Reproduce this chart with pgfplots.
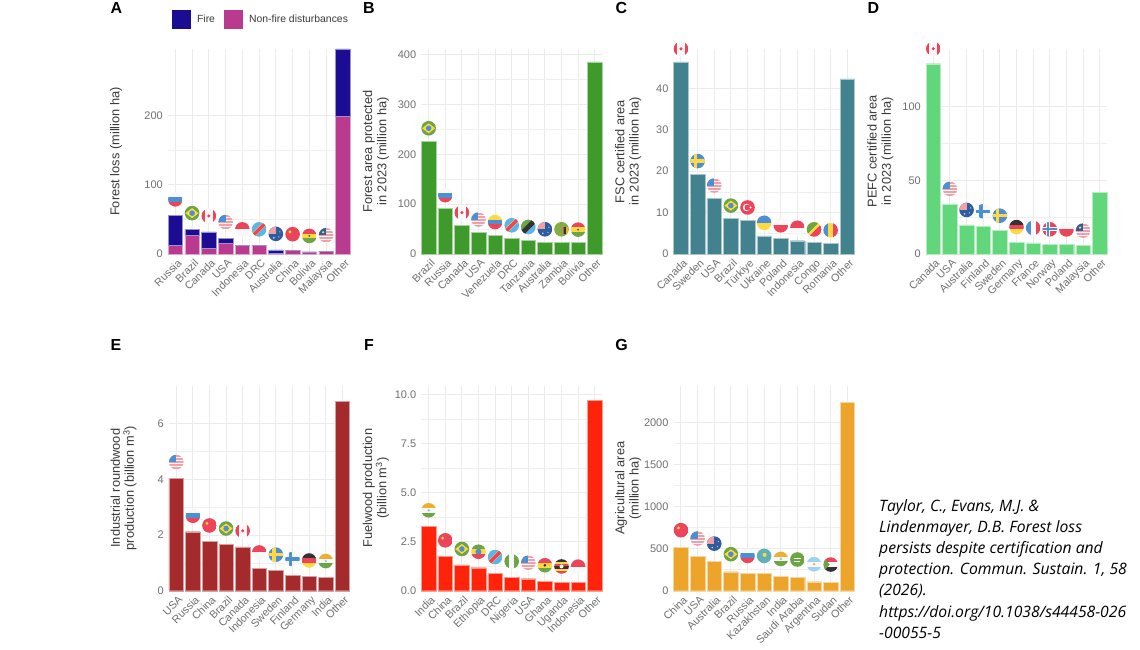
\documentclass[border=0pt]{standalone}
\usepackage{fontspec}
\usepackage{pgfplots}
\pgfplotsset{compat=1.18}
\setmainfont{Liberation Sans}
\newfontfamily\citefont{Open Sans}

\definecolor{gridc}{HTML}{EBEBEB}
\definecolor{tickc}{HTML}{707070}
\definecolor{labelc}{HTML}{3A3A3A}
\definecolor{firec}{HTML}{1C0C94}
\definecolor{nonfirec}{HTML}{B93A8F}
\definecolor{cB}{HTML}{3F9A2C}
\definecolor{cC}{HTML}{42818E}
\definecolor{cD}{HTML}{62D67B}
\definecolor{cE}{HTML}{A42A2C}
\definecolor{cF}{HTML}{FF2409}
\definecolor{cG}{HTML}{EDA42B}
% flag colours, washed out like the reference
\definecolor{fr}{HTML}{EC4459}
\definecolor{fb}{HTML}{4D8FD0}
\definecolor{fg}{HTML}{6DA544}
\definecolor{fy}{HTML}{FFD944}
\definecolor{fk}{HTML}{333333}
\definecolor{fw}{HTML}{F8F8F8}
\definecolor{fs}{HTML}{F2A0A8}
\definecolor{fn}{HTML}{2F5C9E}
\definecolor{fc}{HTML}{5BB5E8}
\definecolor{fo}{HTML}{EFAE2E}

\newcommand\hb[3]{\fill[#1] (-8pt,#2pt) rectangle (8pt,#3pt);}
\newcommand\vb[3]{\fill[#1] (#2pt,-8pt) rectangle (#3pt,8pt);}
\newcommand\flagdef[2]{\pgfdeclareplotmark{#1}{\pgfsetstrokeopacity{0}\begin{scope}\clip (0pt,0pt) circle (7.3pt); #2 \end{scope}}}
\newcommand\stripes{\hb{fw}{-8}{8}\hb{fs}{5}{7}\hb{fs}{2}{4}\hb{fs}{-1}{1}\hb{fs}{-4}{-2}\hb{fs}{-7}{-5}}

\flagdef{russia}{\hb{fw}{2.4}{8}\hb{fb}{-2.4}{2.4}\hb{fr}{-8}{-2.4}}
\flagdef{brazil}{\hb{fg}{-8}{8}\fill[fy] (-6.5pt,0pt)--(0pt,5pt)--(6.5pt,0pt)--(0pt,-5pt)--cycle;\fill[fb] (0pt,0pt) circle (2.8pt);}
\flagdef{canada}{\hb{fw}{-8}{8}\vb{fr}{-8}{-4}\vb{fr}{4}{8}\fill[fr] (0pt,0pt) circle (1.7pt);}
\flagdef{usa}{\stripes\fill[fb] (-8pt,0pt) rectangle (0pt,8pt);}
\flagdef{indonesia}{\hb{fw}{-8}{0}\hb{fr}{0}{8}}
\flagdef{drc}{\hb{fc}{-8}{8}\fill[fy] (-9pt,-6pt)--(5pt,8pt)--(9pt,6pt)--(-5pt,-8pt)--cycle;\fill[fr] (-8pt,-5.6pt)--(5.6pt,8pt)--(8pt,5.6pt)--(-5.6pt,-8pt)--cycle;}
\flagdef{australia}{\hb{fn}{-8}{8}\fill[fs] (-8pt,0pt) rectangle (0pt,8pt);\fill[fw] (4pt,2pt) circle (.6pt);\fill[fw] (-2pt,-4pt) circle (.8pt);\fill[fw] (3pt,-3pt) circle (.6pt);}
\flagdef{china}{\hb{fr}{-8}{8}\fill[fy] (-2.6pt,2.2pt) circle (1.6pt);}
\flagdef{bolivia}{\hb{fr}{2.4}{8}\hb{fy}{-2.4}{2.4}\hb{fg}{-8}{-2.4}\fill[fg!50!fk] (0pt,0pt) circle (1.1pt);}
\flagdef{malaysia}{\stripes\fill[fn] (-8pt,0pt) rectangle (0pt,8pt);\fill[fy] (-3pt,3pt) circle (1.3pt);}
\flagdef{venezuela}{\hb{fy}{2.4}{8}\hb{fb}{-2.4}{2.4}\hb{fr}{-8}{-2.4}}
\flagdef{tanzania}{\hb{fc}{-8}{8}\fill[fg] (-8pt,-8pt)--(-8pt,8pt)--(8pt,8pt)--cycle;\fill[fy] (-8pt,-6pt)--(6pt,8pt)--(8pt,6pt)--(-6pt,-8pt)--cycle;\fill[fk] (-8pt,-4.6pt)--(4.6pt,8pt)--(8pt,4.6pt)--(-4.6pt,-8pt)--cycle;}
\flagdef{zambia}{\hb{fg!85!fy}{-8}{8}\fill[fr] (1pt,-5pt) rectangle (2.7pt,2pt);\fill[fk] (2.7pt,-5pt) rectangle (4.3pt,2pt);\fill[fo] (4.3pt,-5pt) rectangle (6pt,2pt);}
\flagdef{sweden}{\hb{fb}{-8}{8}\hb{fy}{-1.6}{1.6}\vb{fy}{-3.6}{-.4}}
\flagdef{turkey}{\hb{fr}{-8}{8}\fill[fw] (-1pt,0pt) circle (3.7pt);\fill[fr] (-.1pt,0pt) circle (2.9pt);\fill[fw] (3pt,0pt) circle (1.1pt);}
\flagdef{ukraine}{\hb{fb}{0}{8}\hb{fy}{-8}{0}}
\flagdef{poland}{\hb{fw}{0}{8}\hb{fr}{-8}{0}}
\flagdef{congo}{\hb{fy}{-8}{8}\fill[fg] (-8pt,-6pt)--(-8pt,8pt)--(6pt,8pt)--cycle;\fill[fr] (8pt,6pt)--(8pt,-8pt)--(-6pt,-8pt)--cycle;}
\flagdef{romania}{\vb{fb}{-8}{-2.4}\vb{fy}{-2.4}{2.4}\vb{fr}{2.4}{8}}
\flagdef{finland}{\hb{fw}{-8}{8}\hb{fb}{-1.7}{1.7}\vb{fb}{-3.8}{-.4}}
\flagdef{germany}{\hb{fk}{2.4}{8}\hb{fr}{-2.4}{2.4}\hb{fy}{-8}{-2.4}}
\flagdef{france}{\vb{fb}{-8}{-2.4}\vb{fw}{-2.4}{2.4}\vb{fr}{2.4}{8}}
\flagdef{norway}{\hb{fr}{-8}{8}\hb{fw}{-2.2}{2.2}\vb{fw}{-4}{0}\hb{fb}{-1.1}{1.1}\vb{fb}{-3}{-1}}
\flagdef{india}{\hb{fo}{2.4}{8}\hb{fw}{-2.4}{2.4}\hb{fg}{-8}{-2.4}\fill[fb!60!white] (0pt,0pt) circle (1.3pt);}
\flagdef{nigeria}{\vb{fg}{-8}{-2.4}\vb{fw}{-2.4}{2.4}\vb{fg}{2.4}{8}}
\flagdef{ethiopia}{\hb{fg}{2.4}{8}\hb{fy}{-2.4}{2.4}\hb{fr}{-8}{-2.4}\fill[fb] (0pt,0pt) circle (3pt);}
\flagdef{ghana}{\hb{fr}{2.4}{8}\hb{fy}{-2.4}{2.4}\hb{fg}{-8}{-2.4}\fill[fk] (0pt,0pt) circle (1.5pt);}
\flagdef{uganda}{\hb{fk}{4.8}{8}\hb{fy}{2.4}{4.8}\hb{fr}{0}{2.4}\hb{fk}{-2.4}{0}\hb{fy}{-4.8}{-2.4}\hb{fr}{-8}{-4.8}\fill[fw] (0pt,0pt) circle (2pt);}
\flagdef{kazakhstan}{\hb{fc!70!fg}{-8}{8}\fill[fy] (.5pt,1pt) circle (2pt);}
\flagdef{saudi}{\hb{fg}{-8}{8}\fill[fw] (-3.5pt,.2pt) rectangle (3.5pt,1.8pt);\fill[fw] (-3pt,-2pt) rectangle (3pt,-1.4pt);}
\flagdef{argentina}{\hb{fc!60!white}{2.4}{8}\hb{fw}{-2.4}{2.4}\hb{fc!60!white}{-8}{-2.4}\fill[fo] (0pt,0pt) circle (1.3pt);}
\flagdef{sudan}{\hb{fr}{2.4}{8}\hb{fw}{-2.4}{2.4}\hb{fk}{-8}{-2.4}\fill[fg] (-8pt,8pt)--(-1pt,0pt)--(-8pt,-8pt)--cycle;}

% one flag above a bar: name, category position, bar height
\newcommand\flag[3]{\addplot[forget plot, sharp plot, only marks, mark=#1, mark options={draw=none,yshift=\flagup}] coordinates {(#2,#3)};}

\pgfplotsset{
  panel/.style={
    scale only axis, clip=false,
    xmin=-0.45, xmax=10.45, ymin=0,
    axis line style={draw=none},
    tick style={draw=none},
    xtick={0,...,10},
    xmajorgrids, ymajorgrids, yminorgrids, minor y tick num=1,
    major grid style={draw=gridc, line width=1pt},
    minor grid style={draw=gridc!80!white, line width=0.6pt},
    tick label style={font=\fontsize{11}{12}\selectfont, text=tickc},
    /pgf/number format/assume math mode=true,
    /pgf/number format/.cd, 1000 sep={},
    /pgfplots/.cd,
    xticklabel style={rotate=45, anchor=north east, inner sep=1pt, font=\fontsize{10.8}{12}\selectfont, xshift=-1pt, yshift=-3pt},
    yticklabel style={xshift=-1.5pt},
    xtick pos=bottom,
    every axis y label/.style={at={(axis description cs:-0.25,0.5)}, rotate=90, anchor=center,
      align=center, font=\fontsize{12.8}{14.2}\selectfont, text=labelc},
  },
  bar/.style={forget plot, ybar, bar shift=0pt, bar width=14.6pt, fill=#1, draw=#1!45!white, line width=0.4pt},
}

\begin{document}
\begin{tikzpicture}[x=1pt,y=1pt]
\useasboundingbox (0,0) rectangle (1140,649);
\fill[white] (0,0) rectangle (1140,649);

% A
\begin{axis}[panel, at={(167.8pt,395pt)}, width=182.6pt, height=205pt, ymax=297,
  ytick={0,100,200}, ylabel={Forest loss (million ha)},
  every axis y label/.append style={at={(axis description cs:-0.283,0.5)}},
  xticklabels={Russia,Brazil,Canada,USA,Indonesia,DRC,Australia,China,Bolivia,Malaysia,Other},
  legend style={at={(axis description cs:0.022,1.146)}, anchor=west, draw=none, fill=none,
    inner xsep=0pt, inner ysep=0pt, legend columns=2, font=\fontsize{10.4}{12}\selectfont, text=labelc,
    /tikz/every even column/.append style={column sep=7pt},
    /tikz/every odd column/.append style={column sep=5pt}},
  legend cell align=left,
  legend image code/.code={\fill[#1] (0pt,-8.8pt) rectangle (17.7pt,8.8pt);},
]
\addplot[bar=nonfirec, stack plots=y] coordinates {(0,13)(1,27)(2,9)(3,15)(4,12.5)(5,12.5)(6,1)(7,5.5)(8,3)(9,4)(10,200)};
\addplot[bar=firec, stack plots=y] coordinates {(0,43)(1,9)(2,23)(3,8)(4,0)(5,0)(6,5)(7,0)(8,0)(9,0)(10,97)};
\addlegendimage{firec}\addlegendentry{Fire}
\addlegendimage{nonfirec}\addlegendentry{Non-fire disturbances}
\def\flagup{16pt}
\flag{russia}{0}{56}\flag{brazil}{1}{36}\flag{canada}{2}{32}\flag{usa}{3}{23}\flag{indonesia}{4}{12.5}
\flag{drc}{5}{12.5}\flag{australia}{6}{6}\flag{china}{7}{5.5}\flag{bolivia}{8}{3}\flag{malaysia}{9}{4}
\end{axis}

% B
\begin{axis}[panel, at={(421.2pt,395pt)}, width=181pt, height=205pt, ymax=411,
  ytick={0,100,200,300,400}, ylabel={Forest area protected\\in 2023 (million ha)},
  xticklabels={Brazil,Russia,Canada,USA,Venezuela,DRC,Tanzania,Australia,Zambia,Bolivia,Other}]
\addplot[bar=cB] coordinates {(0,226)(1,92)(2,57)(3,43)(4,38)(5,31.5)(6,28)(7,23.5)(8,23.5)(9,22.8)(10,385)};
\def\flagup{13pt}
\flag{brazil}{0}{226}\flag{russia}{1}{92}\flag{canada}{2}{57}\flag{usa}{3}{43}\flag{venezuela}{4}{38}
\flag{drc}{5}{31.5}\flag{tanzania}{6}{28}\flag{australia}{7}{23.5}\flag{zambia}{8}{23.5}\flag{bolivia}{9}{22.8}
\end{axis}

% C
\begin{axis}[panel, at={(673.5pt,395pt)}, width=181.3pt, height=205pt, ymax=49.5,
  ytick={0,10,20,30,40}, ylabel={FSC certified area\\in 2023 (million ha)},
  xticklabels={Canada,Sweden,USA,Brazil,Türkiye,Ukraine,Poland,Indonesia,Congo,Romania,Other}]
\addplot[bar=cC] coordinates {(0,46.4)(1,19.3)(2,13.4)(3,8.55)(4,8.1)(5,4.4)(6,3.8)(7,3.2)(8,2.8)(9,2.6)(10,42.3)};
\def\flagup{13pt}
\flag{canada}{0}{46.4}\flag{sweden}{1}{19.3}\flag{usa}{2}{13.4}\flag{brazil}{3}{8.55}\flag{turkey}{4}{8.1}
\flag{ukraine}{5}{4.4}\flag{poland}{6}{3.8}\flag{indonesia}{7}{3.2}\flag{congo}{8}{2.8}\flag{romania}{9}{2.6}
\end{axis}

% D
\begin{axis}[panel, at={(925.8pt,395pt)}, width=181.4pt, height=205pt, ymax=139,
  ytick={0,50,100}, ylabel={PEFC certified area\\in 2023 (million ha)},
  xticklabels={Canada,USA,Australia,Finland,Sweden,Germany,France,Norway,Poland,Malaysia,Other}]
\addplot[bar=cD] coordinates {(0,129)(1,34)(2,19.7)(3,18.8)(4,15.8)(5,8.1)(6,7.5)(7,6.6)(8,6.5)(9,5.7)(10,42)};
\def\flagup{15pt}
\flag{canada}{0}{129}\flag{usa}{1}{34}\flag{australia}{2}{19.7}\flag{finland}{3}{18.8}\flag{sweden}{4}{15.8}
\flag{germany}{5}{8.1}\flag{france}{6}{7.5}\flag{norway}{7}{6.6}\flag{poland}{8}{6.5}\flag{malaysia}{9}{5.7}
\end{axis}

% E
\begin{axis}[panel, at={(168.8pt,58.3pt)}, width=181pt, height=205pt, ymax=7.37,
  ytick={0,2,4,6}, ylabel={Industrial roundwood\\production (billion m\textsuperscript{3})},
  xticklabels={USA,Russia,China,Brazil,Canada,Indonesia,Sweden,Finland,Germany,India,Other}]
\addplot[bar=cE] coordinates {(0,4.05)(1,2.12)(2,1.77)(3,1.66)(4,1.58)(5,0.8)(6,0.72)(7,0.56)(8,0.51)(9,0.49)(10,6.8)};
\def\flagup{16pt}
\flag{usa}{0}{4.05}\flag{russia}{1}{2.12}\flag{china}{2}{1.77}\flag{brazil}{3}{1.66}\flag{canada}{4}{1.58}
\flag{indonesia}{5}{0.8}\flag{sweden}{6}{0.72}\flag{finland}{7}{0.56}\flag{germany}{8}{0.51}\flag{india}{9}{0.49}
\end{axis}

% F
\begin{axis}[panel, at={(421.2pt,58.3pt)}, width=181pt, height=205pt, ymax=10.44,
  ytick={0,2.5,5,7.5,10}, yticklabels={0.0,2.5,5.0,7.5,10.0}, ylabel={Fuelwood production\\(billion m\textsuperscript{3})},
  xticklabels={India,China,Brazil,Ethiopia,DRC,Nigeria,USA,Ghana,Uganda,Indonesia,Other}]
\addplot[bar=cF] coordinates {(0,3.28)(1,1.75)(2,1.31)(3,1.17)(4,0.9)(5,0.68)(6,0.61)(7,0.48)(8,0.42)(9,0.41)(10,9.68)};
\def\flagup{16pt}
\flag{india}{0}{3.28}\flag{china}{1}{1.75}\flag{brazil}{2}{1.31}\flag{ethiopia}{3}{1.17}\flag{drc}{4}{0.9}
\flag{nigeria}{5}{0.68}\flag{usa}{6}{0.61}\flag{ghana}{7}{0.48}\flag{uganda}{8}{0.42}\flag{indonesia}{9}{0.41}
\end{axis}

% G
\begin{axis}[panel, at={(673.5pt,58.3pt)}, width=181.3pt, height=205pt, ymax=2440,
  ytick={0,500,1000,1500,2000}, ylabel={Agricultural area\\(million ha)},
  xticklabels={China,USA,Australia,Brazil,Russia,Kazakhstan,India,Saudi Arabia,Argentina,Sudan,Other}]
\addplot[bar=cG] coordinates {(0,512)(1,413)(2,352)(3,226)(4,206)(5,206)(6,170)(7,163)(8,107)(9,103)(10,2238)};
\def\flagup{17.5pt}
\flag{china}{0}{512}\flag{usa}{1}{413}\flag{australia}{2}{352}\flag{brazil}{3}{226}\flag{russia}{4}{206}
\flag{kazakhstan}{5}{206}\flag{india}{6}{170}\flag{saudi}{7}{163}\flag{argentina}{8}{107}\flag{sudan}{9}{103}
\end{axis}

% panel letters
\foreach \l/\x/\y in {A/116.5/641,B/369/641,C/621.5/641,D/873.5/641,E/116/304,F/369/304,G/621.5/304}
  \node[font=\bfseries\fontsize{16}{18}\selectfont, text=black] at (\x,\y) {\l};

% citation
\node[anchor=north west, inner sep=0pt, align=left, text=black,
  font=\citefont\itshape\fontsize{15.7}{21.2}\selectfont] at (879,150)
  {Taylor, C., Evans, M.J. \&\\Lindenmayer, D.B. Forest loss\\persists despite certification and\\protection. Commun. Sustain. 1, 58\\(2026).\\https://doi.org/10.1038/s44458-026\\-00055-5};
\end{tikzpicture}
\end{document}
